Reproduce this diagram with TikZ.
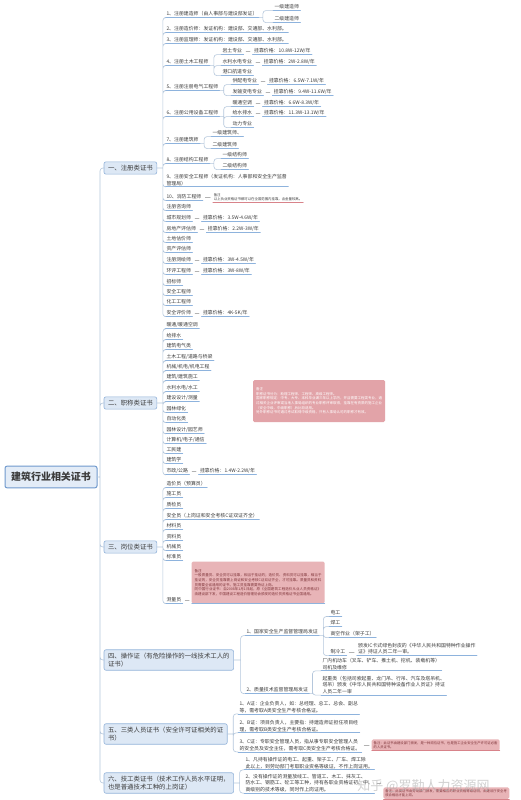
\documentclass[tikz,border=0pt]{standalone}
\usepackage{fontspec}
\setmainfont{Noto Sans CJK SC}
\XeTeXlinebreaklocale "zh"
\XeTeXlinebreakskip = 0pt plus 1pt
\usetikzlibrary{calc}
\definecolor{CertPaper}{HTML}{FFFFFF}
\definecolor{CertInk}{HTML}{3C3C3C}
\definecolor{CertRoot}{HTML}{E3ECF7}
\definecolor{CertRootLine}{HTML}{6F99CD}
\definecolor{CertTopic}{HTML}{DDE8F5}
\definecolor{CertTopicLine}{HTML}{94B4DA}
\definecolor{CertRule}{HTML}{8EB3DD}
\definecolor{CertLink}{HTML}{B5C7DC}
\definecolor{CertMark}{gray}{0.70}
\definecolor{CertNote}{HTML}{E8B4B7}
\definecolor{CertNoteDeep}{HTML}{E2A3A8}
\definecolor{CertNoteInk}{HTML}{7E3338}
\definecolor{CertNoteRule}{HTML}{D8838A}
\tikzset{
    cert/diagram/.style={
        x=1pt, y=-1pt,
        text=CertInk,
        line cap=round,
        line join=round,
        every node/.style={inner sep=1.3pt, outer sep=0pt}
    },
    cert/lined/.style={
        append after command={\pgfextra{\let\certlast\tikzlastnode}
            (\certlast.south west) edge[#1] (\certlast.south east)}
    },
    cert/rule/.style={draw=CertRule, line width=0.8pt},
    cert/redrule/.style={draw=CertNoteRule, line width=0.6pt},
    cert/link/.style={draw=CertLink, line width=0.6pt, rounded corners=3pt},
    cert/dash/.style={draw=CertMark, line width=0.5pt,
        shorten <=2.5pt, shorten >=2.5pt},
    cert/root/.style={
        draw=CertRootLine, fill=CertRoot, line width=1pt, rounded corners=2pt,
        font=\fontsize{10}{12}\selectfont\bfseries,
        inner xsep=6pt, inner ysep=6pt, anchor=west
    },
    cert/topic/.style={
        draw=CertTopicLine, fill=CertTopic, line width=0.6pt, rounded corners=2pt,
        font=\fontsize{6.4}{8}\selectfont, align=left,
        inner xsep=4pt, inner ysep=3.2pt, anchor=west
    },
    cert/item/.style={
        anchor=west, align=left, font=\fontsize{4.9}{6.5}\selectfont,
        inner xsep=1.5pt, cert/lined=cert/rule
    },
    cert/remark/.style={
        anchor=west, align=left, font=\fontsize{3.4}{4.3}\selectfont,
        inner xsep=1pt, cert/lined=cert/redrule
    },
    cert/note/.style={
        fill=CertNote, rounded corners=1.5pt, align=left, text=CertNoteInk,
        font=\fontsize{3.5}{4.6}\selectfont, inner sep=3pt
    }
}
\begin{document}
\begin{tikzpicture}[cert/diagram]
    \useasboundingbox[fill=CertPaper] (0,0) rectangle (520,800);
    % root and topics
    \node[cert/root] (root) at (5,477) {建筑行业相关证书};
    \node[cert/topic] (reg) at (104,168) {一、注册类证书};
    \node[cert/topic] (ttl) at (104,403) {二、职称类证书};
    \node[cert/topic] (post) at (104,547) {三、岗位类证书};
    \node[cert/topic] (op) at (104,660) {四、操作证（有危险操作的一线技术工人的\\证书）};
    \node[cert/topic] (sfy) at (104,734) {五、三类人员证书（安全许可证相关的证\\书）};
    \node[cert/topic] (tech) at (104,783) {六、技工类证书（技术工作人员水平证明，\\也是普通技术工种的上岗证）};
    \coordinate (rootfork) at ($(root.east)+(3,0)$);
    \draw[cert/link] (root.east) -- (rootfork)
        (rootfork) |- (reg.west)  (rootfork) |- (ttl.west)
        (rootfork) |- (post.west) (rootfork) |- (op.west)
        (rootfork) |- (sfy.west)  (rootfork) |- (tech.west);

    % 一、注册类证书
    \node[cert/item] (reg1) at (165,14) {1、注册建造师（由人事部与建设部发证）};
    \node[cert/item] (reg1a) at (273,7) {一级建造师};
    \node[cert/item] (reg1b) at (273,19) {二级建造师};
    \node[cert/item] (reg2) at (165,29) {2、注册造价师：发证机构：建设部、交通部、水利部。};
    \node[cert/item] (reg3) at (165,40) {3、注册监理师：发证机构：建设部、交通部、水利部。};
    \node[cert/item] (reg4) at (165,62) {4、注册土木工程师};
    \node[cert/item] (reg4a) at (221,51) {岩土专业};
    \node[cert/item] (reg4ap) at ($(reg4a.east)+(9,0)$) {挂靠价格：10.8W-12W/年};
    \node[cert/item] (reg4b) at (221,62) {水利水电专业};
    \node[cert/item] (reg4bp) at ($(reg4b.east)+(9,0)$) {挂靠价格：2W-2.8W/年};
    \node[cert/item] (reg4c) at (221,72) {港口航道专业};
    \node[cert/item] (reg5) at (165,87) {5、注册注册电气工程师};
    \node[cert/item] (reg5a) at (231,81) {供配电专业};
    \node[cert/item] (reg5ap) at ($(reg5a.east)+(9,0)$) {挂靠价格：6.5W-7.1W/年};
    \node[cert/item] (reg5b) at (231,92) {发输变电专业};
    \node[cert/item] (reg5bp) at ($(reg5b.east)+(9,0)$) {挂靠价格：9.4W-11.6W/年};
    \node[cert/item] (reg6) at (165,113) {6、注册公用设备工程师};
    \node[cert/item] (reg6a) at (231,103) {暖通空调};
    \node[cert/item] (reg6ap) at ($(reg6a.east)+(9,0)$) {挂靠价格：6.6W-8.3W/年};
    \node[cert/item] (reg6b) at (231,113) {给水排水};
    \node[cert/item] (reg6bp) at ($(reg6b.east)+(9,0)$) {挂靠价格：11.3W-13.1W/年};
    \node[cert/item] (reg6c) at (231,124) {动力专业};
    \node[cert/item] (reg7) at (165,140) {7、注册建筑师};
    \node[cert/item] (reg7a) at (211,133) {一级建筑师、};
    \node[cert/item] (reg7b) at (211,145) {二级建筑师};
    \node[cert/item] (reg8) at (165,160) {8、注册结构工程师};
    \node[cert/item] (reg8a) at (221,155) {一级结构师};
    \node[cert/item] (reg8b) at (221,166) {二级结构师};
    \node[cert/item] (reg9) at (165,180) {9、注册安全工程师（发证机构：人事部和安全生产监督\\管理局）};
    \node[cert/item] (reg10) at (165,197) {10、消防工程师};
    \node[cert/remark] (reg10n) at ($(reg10.east)+(10,0)$) {备注\\以上执业资格证书都可以在全国范围内挂靠，含金量较高。};
    \node[cert/item] (reg11) at (165,207) {注册咨询师};
    \node[cert/item] (reg12) at (165,218) {城市规划师};
    \node[cert/item] (reg12p) at ($(reg12.east)+(9,0)$) {挂靠价格：3.5W-4.6W/年};
    \node[cert/item] (reg13) at (165,229) {房地产评估师};
    \node[cert/item] (reg13p) at ($(reg13.east)+(9,0)$) {挂靠价格：2.2W-3W/年};
    \node[cert/item] (reg14) at (165,239) {土地估价师};
    \node[cert/item] (reg15) at (165,249) {资产评估师};
    \node[cert/item] (reg16) at (165,260) {注册测绘师};
    \node[cert/item] (reg16p) at ($(reg16.east)+(9,0)$) {挂靠价格：3W-4.5W/年};
    \node[cert/item] (reg17) at (165,271) {环评工程师};
    \node[cert/item] (reg17p) at ($(reg17.east)+(9,0)$) {挂靠价格：3W-8W/年};
    \node[cert/item] (reg18) at (165,282) {招标师};
    \node[cert/item] (reg19) at (165,292) {安全工程师};
    \node[cert/item] (reg20) at (165,302) {化工工程师};
    \node[cert/item] (reg21) at (165,313) {安全评价师};
    \node[cert/item] (reg21p) at ($(reg21.east)+(9,0)$) {挂靠价格：4K-5K/年};
    \coordinate (regfork) at ($(reg.east)+(6,0)$);
    \draw[cert/link] (reg.east) -- (regfork)
        (regfork) |- (reg1.south west)  (regfork) |- (reg2.south west)
        (regfork) |- (reg3.south west)  (regfork) |- (reg4.south west)
        (regfork) |- (reg5.south west)  (regfork) |- (reg6.south west)
        (regfork) |- (reg7.south west)  (regfork) |- (reg8.south west)
        (regfork) |- (reg9.south west)  (regfork) |- (reg10.south west)
        (regfork) |- (reg11.south west) (regfork) |- (reg12.south west)
        (regfork) |- (reg13.south west) (regfork) |- (reg14.south west)
        (regfork) |- (reg15.south west) (regfork) |- (reg16.south west)
        (regfork) |- (reg17.south west) (regfork) |- (reg18.south west)
        (regfork) |- (reg19.south west) (regfork) |- (reg20.south west)
        (regfork) |- (reg21.south west);
    \draw[cert/link] (reg1.south east) -- ++(4,0) coordinate (reg1fork)
        (reg1fork) |- (reg1a.south west) (reg1fork) |- (reg1b.south west);
    \draw[cert/link] (reg4.south east) -- ++(4,0) coordinate (reg4fork)
        (reg4fork) |- (reg4a.south west) (reg4fork) |- (reg4b.south west)
        (reg4fork) |- (reg4c.south west);
    \draw[cert/link] (reg5.south east) -- ++(4,0) coordinate (reg5fork)
        (reg5fork) |- (reg5a.south west) (reg5fork) |- (reg5b.south west);
    \draw[cert/link] (reg6.south east) -- ++(4,0) coordinate (reg6fork)
        (reg6fork) |- (reg6a.south west) (reg6fork) |- (reg6b.south west)
        (reg6fork) |- (reg6c.south west);
    \draw[cert/link] (reg7.south east) -- ++(4,0) coordinate (reg7fork)
        (reg7fork) |- (reg7a.south west) (reg7fork) |- (reg7b.south west);
    \draw[cert/link] (reg8.south east) -- ++(4,0) coordinate (reg8fork)
        (reg8fork) |- (reg8a.south west) (reg8fork) |- (reg8b.south west);
    \draw[cert/dash] (reg4a.east) -- (reg4ap.west);
    \draw[cert/dash] (reg4b.east) -- (reg4bp.west);
    \draw[cert/dash] (reg5a.east) -- (reg5ap.west);
    \draw[cert/dash] (reg5b.east) -- (reg5bp.west);
    \draw[cert/dash] (reg6a.east) -- (reg6ap.west);
    \draw[cert/dash] (reg6b.east) -- (reg6bp.west);
    \draw[cert/dash] (reg10.east) -- (reg10.east -| reg10n.west);
    \draw[cert/dash] (reg12.east) -- (reg12p.west);
    \draw[cert/dash] (reg13.east) -- (reg13p.west);
    \draw[cert/dash] (reg16.east) -- (reg16p.west);
    \draw[cert/dash] (reg17.east) -- (reg17p.west);
    \draw[cert/dash] (reg21.east) -- (reg21p.west);

    % 二、职称类证书
    \node[cert/item] (ttl1) at (165,325) {暖通/暖通空调};
    \node[cert/item] (ttl2) at (165,336) {给排水};
    \node[cert/item] (ttl3) at (165,346) {建筑电气类};
    \node[cert/item] (ttl4) at (165,357) {土木工程/道路与桥梁};
    \node[cert/item] (ttl5) at (165,367) {机械/机电/机电工程};
    \node[cert/item] (ttl6) at (165,377) {建筑/建筑施工};
    \node[cert/item] (ttl7) at (165,388) {水利水电/水工};
    \node[cert/item] (ttl8) at (165,398) {建设设计/测量};
    \node[cert/item] (ttl9) at (165,409) {园林绿化};
    \node[cert/item] (ttl10) at (165,419) {自动化类};
    \node[cert/item] (ttl11) at (165,430) {园林设计/园艺师};
    \node[cert/item] (ttl12) at (165,440) {计算机/电子/通信};
    \node[cert/item] (ttl13) at (165,450) {工民建};
    \node[cert/item] (ttl14) at (165,460) {建筑学};
    \node[cert/item] (ttl15) at (165,471) {市政/公路};
    \node[cert/item] (ttl15p) at ($(ttl15.east)+(9,0)$) {挂靠价格：1.4W-2.2W/年};
    \node[cert/note, fill=CertNoteDeep, text=white, anchor=north west,
          text width=126pt, minimum height=42pt] (ttln) at (253,380)
        {备注\\职称证书分为：助理工程师、工程师、高级工程师。\\
         国家职称规定：中专、大专、本科毕业满三年以上学历，并且需要工程类专业，通过相关企业评审或当地人事局组织的专业职称评审取得，挂靠在有资质的施工企业（安全中级、中级职称）后比较适用。\\
         另外职称证书可通过考试取得中级资格，只有人事局认可的职称才有效。};
    \coordinate (ttlfork) at ($(ttl.east)+(6,0)$);
    \draw[cert/link] (ttl.east) -- (ttlfork)
        (ttlfork) |- (ttl1.south west)  (ttlfork) |- (ttl2.south west)
        (ttlfork) |- (ttl3.south west)  (ttlfork) |- (ttl4.south west)
        (ttlfork) |- (ttl5.south west)  (ttlfork) |- (ttl6.south west)
        (ttlfork) |- (ttl7.south west)  (ttlfork) |- (ttl8.south west)
        (ttlfork) |- (ttl9.south west)  (ttlfork) |- (ttl10.south west)
        (ttlfork) |- (ttl11.south west) (ttlfork) |- (ttl12.south west)
        (ttlfork) |- (ttl13.south west) (ttlfork) |- (ttl14.south west)
        (ttlfork) |- (ttl15.south west);
    \draw[cert/dash] (ttl15.east) -- (ttl15p.west);

    % 三、岗位类证书
    \node[cert/item] (post1) at (165,484) {造价员（预算员）};
    \node[cert/item] (post2) at (165,494) {施工员};
    \node[cert/item] (post3) at (165,505) {质检员};
    \node[cert/item] (post4) at (165,516) {安全员（上岗证和安全考核C证双证齐全）};
    \node[cert/item] (post5) at (165,526) {材料员};
    \node[cert/item] (post6) at (165,537) {资料员};
    \node[cert/item] (post7) at (165,547) {机械员};
    \node[cert/item] (post8) at (165,557) {标准员};
    \node[cert/item] (post9) at (165,600) {测量员};
    \node[cert/note, anchor=south west, text width=127pt, minimum height=42pt,
          cert/lined=cert/rule] (post9n) at ($(post9.south east)+(9,0)$)
        {备注\\一般质量员、安全员可以挂靠，相当于挂证的；造价员、资料员可以挂靠，相当于挂证的，安全员挂靠需上岗证和安全考核C证双证齐全，才可挂靠。质量员和资料员需要全省通用的证书，施工员挂靠需要持证上岗。\\
         同中国行业证书：自2008年1月1日起，原《全国建筑工程造价从业人员资格证》由建设部下发，中国建设工程造价管理协会颁发的造价员资格证书全国通用。};
    \coordinate (postfork) at ($(post.east)+(6,0)$);
    \draw[cert/link] (post.east) -- (postfork)
        (postfork) |- (post1.south west) (postfork) |- (post2.south west)
        (postfork) |- (post3.south west) (postfork) |- (post4.south west)
        (postfork) |- (post5.south west) (postfork) |- (post6.south west)
        (postfork) |- (post7.south west) (postfork) |- (post8.south west)
        (postfork) |- (post9.south west);
    \draw[cert/dash] (post9.east) -- (post9.east -| post9n.west);

    % 四、操作证
    \node[cert/item] (op1) at (245,632) {1、国家安全生产监督管理局发证};
    \node[cert/item] (op1a) at (329,613) {电工};
    \node[cert/item] (op1b) at (329,623) {焊工};
    \node[cert/item] (op1c) at (329,634) {高空作业（架子工）};
    \node[cert/item] (op1d) at (329,652) {制冷工};
    \node[cert/item, anchor=south west] (op1dn) at ($(op1d.south east)+(10,0)$)
        {颁发IC卡式绿色封皮的《中华人民共和国特种作业操作\\证》持证人员二年一审。};
    \node[cert/item] (op2) at (245,690) {2、质量技术监督管理局发证};
    \node[cert/item] (op2a) at (321,664) {厂内机动车（叉车、铲车、推土机、挖机、装载机等）\\司机及维修};
    \node[cert/item] (op2b) at (321,685) {起重类（包括司索起重、龙门吊、行吊、汽车及塔吊机、\\塔吊）颁发《中华人民共和国特种设备作业人员证》持证\\人员二年一审};
    \coordinate (opfork) at ($(op.east)+(7,0)$);
    \draw[cert/link] (op.east) -- (opfork)
        (opfork) |- (op1.south west) (opfork) |- (op2.south west);
    \draw[cert/link] (op1.south east) -- ++(4,0) coordinate (op1fork)
        (op1fork) |- (op1a.south west) (op1fork) |- (op1b.south west)
        (op1fork) |- (op1c.south west) (op1fork) |- (op1d.south west);
    \draw[cert/link] (op2.south east) -- ++(3,0) coordinate (op2fork)
        (op2fork) |- (op2a.south west) (op2fork) |- (op2b.south west);
    \draw[cert/dash] (op1d.east) -- (op1d.east -| op1dn.west);

    % 五、三类人员证书
    \node[cert/item] (sfy1) at (238,707) {1、A证：企业负责人，如：总经理、总工、总会、副总\\等，需考取A类安全生产考核合格证。};
    \node[cert/item] (sfy2) at (238,726) {2、B证：项目负责人，主要指：持建造师证担任项目经\\理，需考取B类安全生产考核合格证。};
    \node[cert/item] (sfy3) at (238,745) {3、C证：专职安全管理人员，指从事专职安全管理人员\\的安全员及安全主任，需考取C类安全生产考核合格证。};
    \node[cert/note, anchor=west, text width=124pt, inner sep=2pt,
          font=\fontsize{3.3}{4.3}\selectfont, cert/lined=cert/redrule] (sfyn)
        at ($(sfy3.east)+(10,0)$)
        {备注：此证书由建设部门颁发，是一种岗位证书，也是施工企业安全生产许可证必备的人员证书。};
    \coordinate (sfyfork) at ($(sfy.east)+(6,0)$);
    \draw[cert/link] (sfy.east) -- (sfyfork)
        (sfyfork) |- (sfy1.south west) (sfyfork) |- (sfy2.south west)
        (sfyfork) |- (sfy3.south west);
    \draw[cert/dash] (sfy3.east) -- (sfyn.west);

    % 六、技工类证书
    \node[cert/item] (tech1) at (244,763) {1、凡持有操作证的电工、起重、架子工、厂车、焊工除\\此以上，到劳动部门考取职业资格等级证，不作上岗证用。};
    \node[cert/item] (tech2) at (244,783) {2、没有操作证的测量放线工、管道工、木工、抹灰工、\\防水工、钢筋工、砼工等工种，持有各职业资格证初、中、\\高级别的技术等级，同时作上岗证用。};
    \node[cert/note, anchor=west, text width=122pt, inner sep=2pt,
          font=\fontsize{3.3}{4.3}\selectfont, cert/lined=cert/redrule] (techn)
        at ($(tech2.south east)+(9,0)$)
        {备注：此类证书由劳动部门颁发，需要相应的职业资格等级证明，由建设厅安全考核合格后才能上岗。};
    \coordinate (techfork) at ($(tech.east)+(6,0)$);
    \draw[cert/link] (tech.east) -- (techfork)
        (techfork) |- (tech1.south west) (techfork) |- (tech2.south west);
    \draw[cert/dash] (tech2.east) -- (tech2.east -| techn.west);

    \node[anchor=west, font=\fontsize{13}{13}\selectfont, text=gray!65,
          opacity=0.55] (mark) at (356,786) {知乎 @罗勤人力资源网};
\end{tikzpicture}
\end{document}
